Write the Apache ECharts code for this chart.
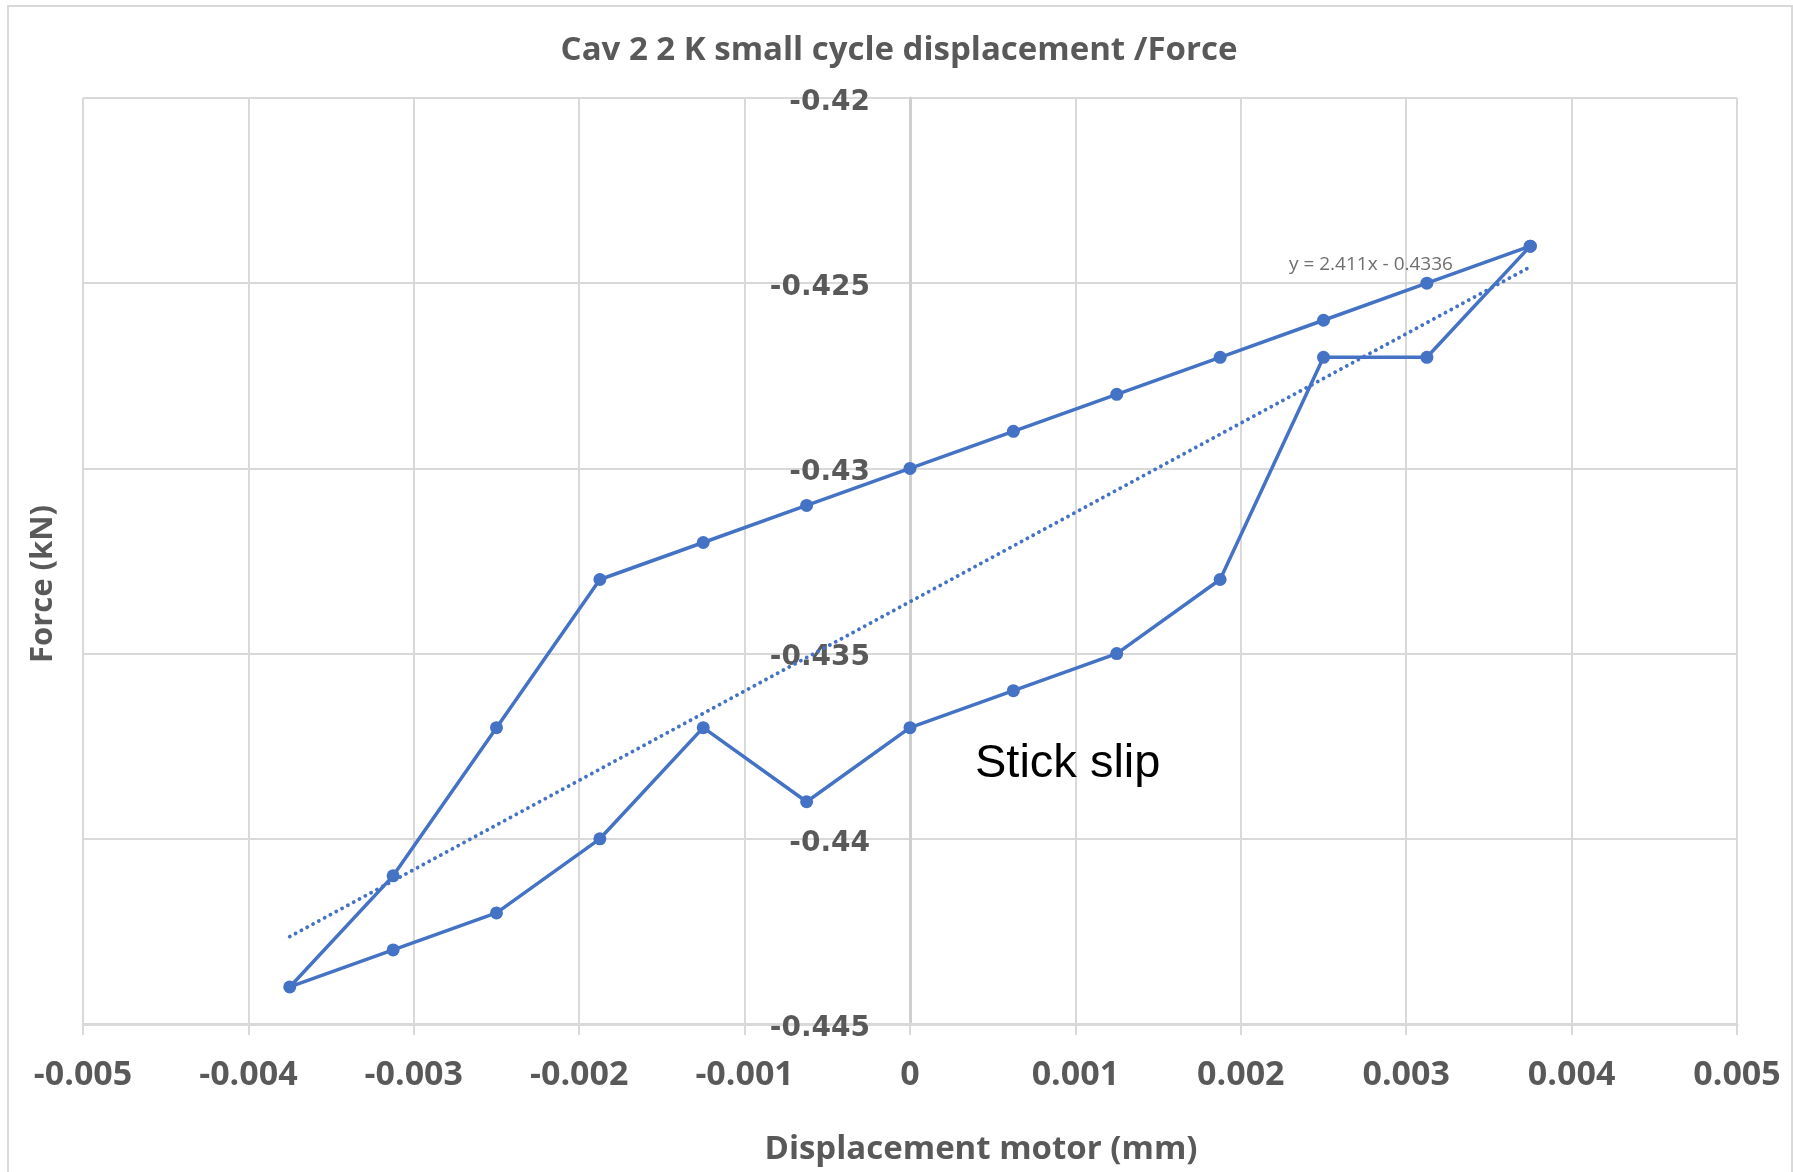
<!DOCTYPE html>
<html>
<head>
<meta charset="utf-8">
<title>Cav 2 2 K small cycle displacement /Force</title>
<script src="https://cdn.jsdelivr.net/npm/echarts@6/dist/echarts.min.js"></script>
<style>
  html, body { margin: 0; padding: 0; background: #ffffff; }
  #chart { width: 1793px; height: 1172px; }
</style>
</head>
<body>
<div id="chart"></div>
<script>
// Motor displacement steps (mm) and measured force (kN) on the two halves of the cycle
const displacement = [-0.00375, -0.003125, -0.0025, -0.001875, -0.00125, -0.000625, 0,
                      0.000625, 0.00125, 0.001875, 0.0025, 0.003125, 0.00375];
const upperForce = [-0.444, -0.441, -0.437, -0.433, -0.432, -0.431, -0.430,
                    -0.429, -0.428, -0.427, -0.426, -0.425, -0.424];
const lowerForce = [-0.444, -0.443, -0.442, -0.440, -0.437, -0.439, -0.437,
                    -0.436, -0.435, -0.433, -0.427, -0.427, -0.424];

// Linear trendline reported for the cycle
const trendSlope = 2.411;
const trendIntercept = -0.4336;
const trendLabel = 'y = 2.411x - 0.4336';

// Axis ranges and tick steps
const xTicks = { min: -0.005, max: 0.005, interval: 0.001 };
const yTicks = { min: -0.445, max: -0.42, interval: 0.005 };

const titleText = 'Cav 2 2 K small cycle displacement /Force';
const xName = 'Displacement motor (mm)';
const yName = 'Force (kN)';
const noteText = 'Stick slip';

// One closed loop: upper branch right-to-left, then lower branch left-to-right
const loop = [];
for (let i = displacement.length - 1; i >= 0; i--) loop.push([displacement[i], upperForce[i]]);
for (let i = 1; i < displacement.length; i++) loop.push([displacement[i], lowerForce[i]]);

const xFirst = displacement[0];
const xLast = displacement[displacement.length - 1];
const trend = [
  [xFirst, trendSlope * xFirst + trendIntercept],
  [xLast, trendSlope * xLast + trendIntercept]
];

const BLUE = '#4472C4';
const GRID = '#d9d9d9';
const TEXT = '#595959';

const GRID_LEFT = 83, GRID_RIGHT = 56;
const CHART_W = 1793;

function fmt(v) {
  return String(Math.round(v * 1e6) / 1e6);
}

const chart = echarts.init(document.getElementById('chart'), null, { renderer: 'canvas' });

// The force axis sits on displacement = 0, in the middle of the plot
const plotW = CHART_W - GRID_LEFT - GRID_RIGHT;
const zeroOffset = -plotW * (0 - xTicks.min) / (xTicks.max - xTicks.min);

chart.setOption({
  backgroundColor: '#ffffff',
  animation: false,
  grid: { left: GRID_LEFT, right: GRID_RIGHT, top: 98, bottom: 148, outerBoundsMode: 'none', containLabel: false },
  xAxis: {
    type: 'value',
    min: xTicks.min, max: xTicks.max, interval: xTicks.interval,
    axisLine: { show: true, onZero: false, lineStyle: { color: GRID, width: 3 } },
    axisTick: { show: true, length: 11, lineStyle: { color: GRID, width: 2 } },
    splitLine: { show: true, lineStyle: { color: GRID, width: 2 } },
    axisLabel: {
      margin: 34,
      color: TEXT,
      fontFamily: 'Open Sans',
      fontWeight: 'bold',
      fontSize: 34,
      formatter: fmt
    }
  },
  yAxis: {
    type: 'value',
    position: 'left',
    offset: zeroOffset,
    min: yTicks.min, max: yTicks.max, interval: yTicks.interval,
    axisLine: { show: true, onZero: false, lineStyle: { color: '#cfcfcf', width: 3 } },
    axisTick: { show: false },
    splitLine: { show: true, lineStyle: { color: GRID, width: 2 } },
    axisLabel: {
      margin: 40,
      color: TEXT,
      fontFamily: 'DejaVu Sans',
      fontWeight: 'bold',
      fontSize: 28,
      verticalAlign: 'top',
      lineHeight: 9,
      formatter: fmt
    }
  },
  series: [
    {
      name: 'Force',
      type: 'line',
      data: loop,
      symbol: 'circle',
      symbolSize: 13,
      itemStyle: { color: BLUE },
      lineStyle: { color: BLUE, width: 3.5 },
      z: 3
    },
    {
      name: 'Linear trend',
      type: 'line',
      data: trend,
      symbol: 'none',
      lineStyle: { color: BLUE, width: 3.8, type: [0.1, 6.5], cap: 'round' },
      z: 4
    }
  ]
});

// Annotations placed in data space
const eqPos = chart.convertToPixel({ gridIndex: 0 }, [0.002787, -0.42451]);
const notePos = chart.convertToPixel({ gridIndex: 0 }, [0.000393, -0.43798]);

chart.setOption({
  graphic: [
    {
      type: 'rect', silent: true,
      shape: { x: 8, y: 6, width: 1784, height: 1200 },
      style: { fill: 'none', stroke: GRID, lineWidth: 2 }
    },
    {
      type: 'text', silent: true, x: 899, y: 51,
      style: { text: titleText, fill: TEXT, font: 'bold 33px "Open Sans"', align: 'center', verticalAlign: 'middle' }
    },
    {
      type: 'text', silent: true, x: 981, y: 1150,
      style: { text: xName, fill: TEXT, font: 'bold 33px "Open Sans"', align: 'center', verticalAlign: 'middle' }
    },
    {
      type: 'text', silent: true, x: 43, y: 584, rotation: Math.PI / 2,
      style: { text: yName, fill: TEXT, font: 'bold 31px "Open Sans"', align: 'center', verticalAlign: 'middle' }
    },
    {
      type: 'text', silent: true, x: eqPos[0], y: eqPos[1],
      style: { text: trendLabel, fill: '#6f6f6f', font: '19px "Open Sans"', align: 'center', verticalAlign: 'middle' }
    },
    {
      type: 'text', silent: true, x: notePos[0], y: notePos[1],
      style: { text: noteText, fill: '#000000', font: '47px "Liberation Sans"', align: 'left', verticalAlign: 'middle' }
    }
  ]
});
</script>
</body>
</html>
